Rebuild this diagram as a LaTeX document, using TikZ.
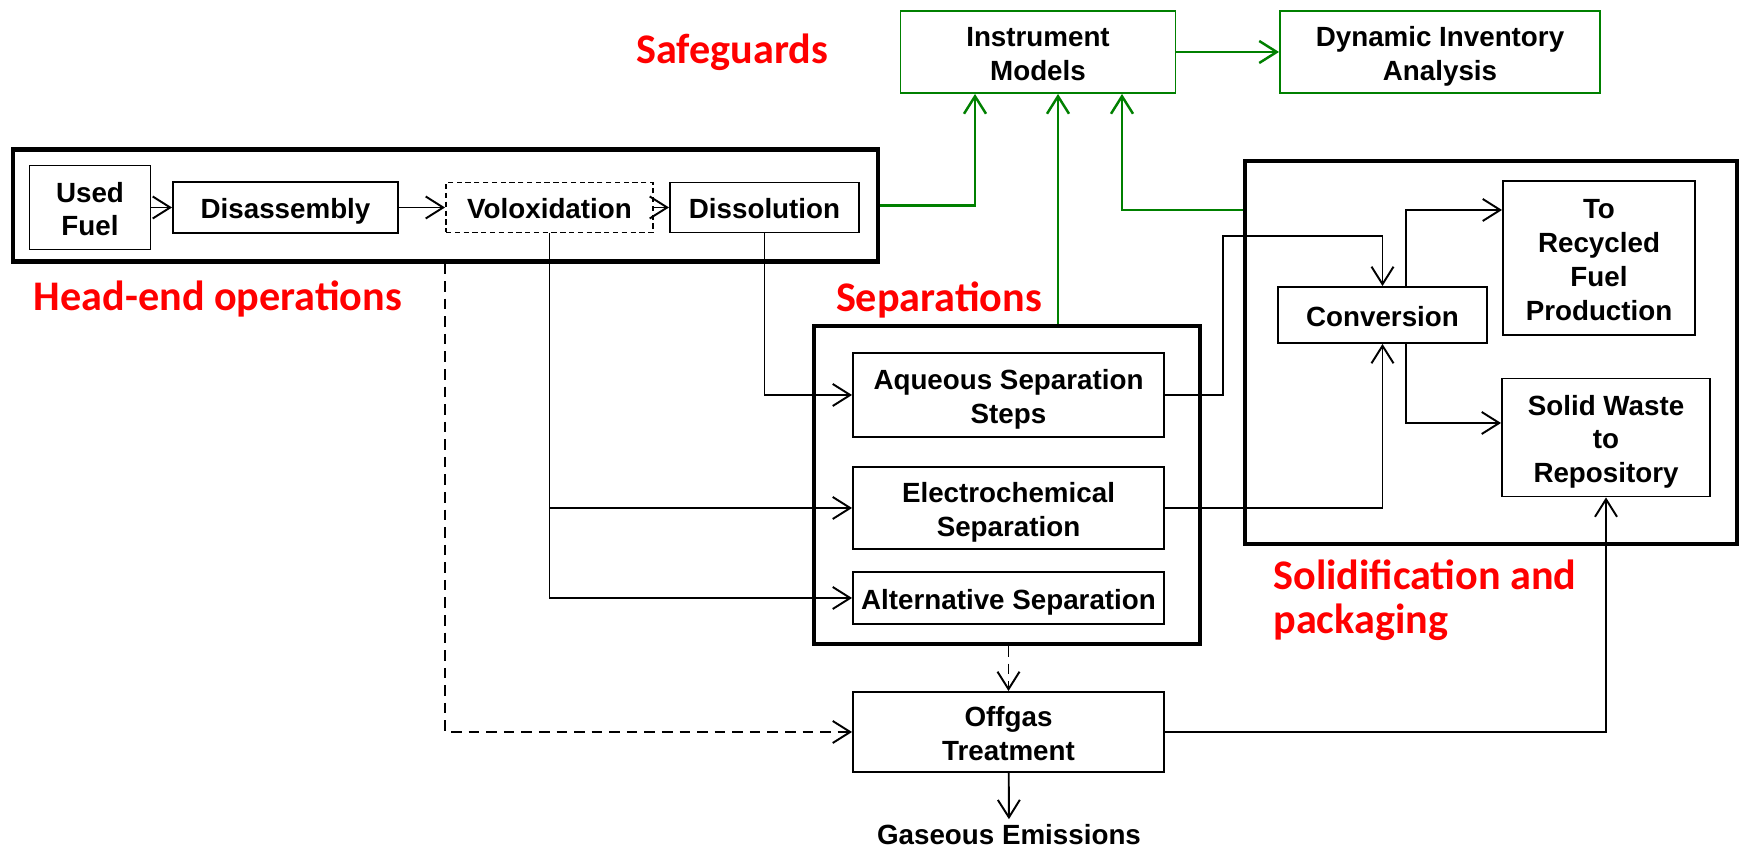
\documentclass[tikz,border=0pt]{standalone}
\usepackage{fontspec}
\setmainfont{Liberation Sans}
\newfontfamily\carlito{Carlito}
\usetikzlibrary{arrows.meta}

\begin{document}
\begin{tikzpicture}[>={Straight Barb[length=3.5mm,width=4.4mm]},
doboz/.style={rectangle,draw=black,line width=1.1pt,inner sep=1pt,text height=12.6pt,text depth=0pt,
  font=\bfseries\fontsize{15.8}{19.2}\selectfont},
zold/.style={doboz,draw=green!50!black},
keret/.style={rectangle,draw=black,line width=2.4pt},
cimke/.style={text=red,inner sep=0pt,font=\carlito\bfseries\fontsize{24}{25}\selectfont}]

\useasboundingbox (0,0) rectangle (34.84,16.98);

\pgfmathsetmacro{\fejy}{12.83}
\pgfmathsetmacro{\sorx}{20.17}

% head-end
\node[keret, minimum width=17.3cm, minimum height=2.24cm](head-end) at (8.91,12.87){};
\node[doboz, minimum width=2.42cm, minimum height=1.68cm](used-fuel) at (1.8,\fejy){\begin{tabular}{c}
  Used\\Fuel
\end{tabular}};
\node[doboz, minimum width=4.5cm, minimum height=1.02cm](disassembly) at (5.71,\fejy){Disassembly};
\node[doboz, dash pattern=on 3pt off 2pt, minimum width=4.14cm, minimum height=1cm](voloxidation) at (10.99,\fejy){Voloxidation};
\node[doboz, minimum width=3.78cm, minimum height=1cm](dissolution) at (15.29,\fejy){Dissolution};

% safeguards
\node[zold, minimum width=5.5cm, minimum height=1.64cm](instrument) at (20.76,15.94){\begin{tabular}{c}
  Instrument\\Models
\end{tabular}};
\node[zold, minimum width=6.4cm, minimum height=1.64cm](inventory) at (28.8,15.94){\begin{tabular}{c}
  Dynamic Inventory\\Analysis
\end{tabular}};

% separations
\node[keret, minimum width=7.72cm, minimum height=6.36cm](separations) at (20.14,7.28){};
\node[doboz, minimum width=6.22cm, minimum height=1.68cm](aqueous) at (\sorx,9.08){\begin{tabular}{c}
  Aqueous Separation\\Steps
\end{tabular}};
\node[doboz, minimum width=6.22cm, minimum height=1.64cm](electro) at (\sorx,6.82){\begin{tabular}{c}
  Electrochemical\\Separation
\end{tabular}};
\node[doboz, minimum width=6.22cm, minimum height=1.04cm](alternative) at (\sorx,5.02){Alternative Separation};
\node[doboz, minimum width=6.22cm, minimum height=1.6cm](offgas) at (\sorx,2.34){\begin{tabular}{c}
  Offgas\\Treatment
\end{tabular}};
\node[doboz, draw=none](emissions) at (20.18,0.32){Gaseous Emissions};

% solidification
\node[keret, minimum width=9.84cm, minimum height=7.66cm](solidification) at (29.82,9.93){};
\node[doboz, minimum width=4.18cm, minimum height=1.12cm](conversion) at (27.65,10.68){Conversion};
\node[doboz, minimum width=3.84cm, minimum height=3.08cm](recycled) at (31.98,11.82){\begin{tabular}{c}
  To\\Recycled\\Fuel\\Production
\end{tabular}};
\node[doboz, minimum width=4.16cm, minimum height=2.36cm](waste) at (32.12,8.23){\begin{tabular}{c}
  Solid Waste\\to\\Repository
\end{tabular}};

% labels
\node[cimke](safeguards-label) at (14.64,15.93){Safeguards};
\node[cimke](head-end-label) at (4.36,10.99){Head-end operations};
\node[cimke](separations-label) at (18.78,10.97){Separations};
\node[cimke, anchor=base west](solidification-label) at (25.46,5.18){\begin{tabular}[t]{@{}l@{}}
  Solidification and\\packaging
\end{tabular}};

\begin{scope}[->, line width=1.1pt]
\draw (used-fuel)--(disassembly);
\draw (disassembly)--(voloxidation);
\draw (voloxidation)--(dissolution);
\draw (dissolution.south)|-(aqueous);
\draw (voloxidation.south)|-(electro);
\draw (voloxidation.south)|-(alternative);
\draw[dash pattern=on 6pt off 4pt] (voloxidation.south west |- head-end.south)|-(offgas);
\draw[dash pattern=on 6pt off 4pt] (offgas.north |- separations.south)--(offgas);
\draw (offgas)--(emissions);
\draw (offgas)-|(waste);
\draw (aqueous.east)--++(1.16,0)|-([yshift=1cm]conversion.north)--(conversion);
\draw (electro)-|(conversion);
\draw ([xshift=0.47cm]conversion.north)|-([yshift=0.96cm]recycled.west);
\draw ([xshift=0.47cm]conversion.south)|-([yshift=0.29cm]waste.west);
\end{scope}

\begin{scope}[->, line width=1.4pt, draw=green!50!black]
\draw (head-end.east)-|([xshift=-1.26cm]instrument.south);
\draw ([xshift=1.02cm]separations.north)--([xshift=1.02cm]separations.north |- instrument.south);
\draw ([yshift=2.85cm]solidification.west)-|([xshift=1.68cm]instrument.south);
\draw (instrument)--(inventory);
\end{scope}
\end{tikzpicture}
\end{document}
